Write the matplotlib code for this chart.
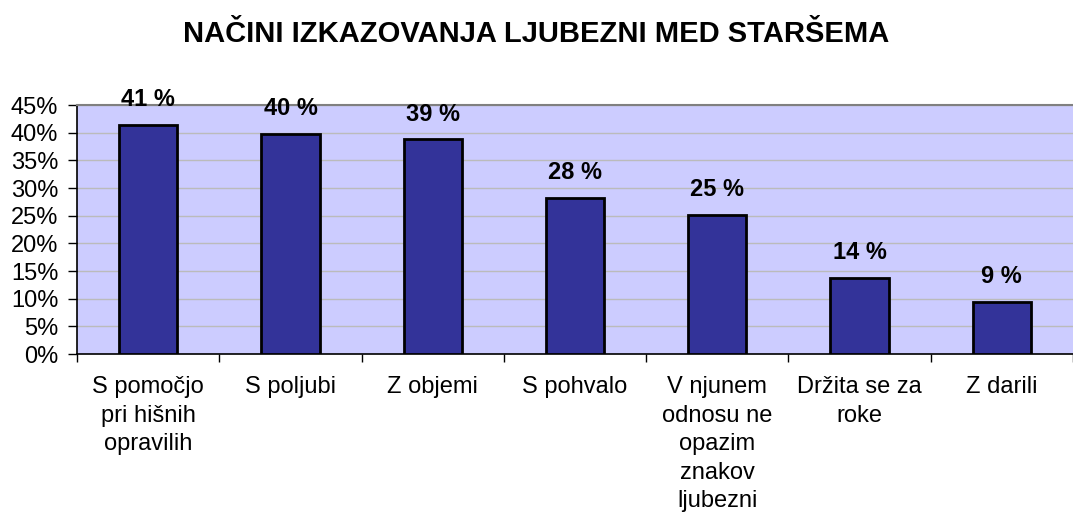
import numpy as np
import matplotlib.pyplot as plt
from matplotlib.ticker import FixedLocator, PercentFormatter

plt.rcParams['font.family'] = ['Liberation Sans', 'DejaVu Sans']

categories = ["S pomočjo\npri hišnih\nopravilih", "S poljubi", "Z objemi", "S pohvalo",
              "V njunem\nodnosu ne\nopazim\nznakov\nljubezni", "Držita se za\nroke", "Z darili"]
values = [41.4, 39.8, 38.8, 28.3, 25.2, 13.7, 9.4]
labels = ["41 %", "40 %", "39 %", "28 %", "25 %", "14 %", "9 %"]

fig = plt.figure(figsize=(10.73, 5.23), dpi=100)
ax = fig.add_axes([0.0718, 0.323, 0.9282, 0.476])
ax.set_facecolor("#CCCCFF")

x = np.arange(len(values))
ax.bar(x, values, width=0.41, color="#333399", edgecolor="black", linewidth=2, zorder=3)
for xi, v, lab in zip(x, values, labels):
    ax.annotate(lab, (xi, v), xytext=(0, 10), textcoords="offset points",
                ha="center", va="bottom", fontsize=17, fontweight="bold")

ax.set_xlim(-0.5, len(values) - 0.5)
ax.set_ylim(0, 45)
ax.set_yticks(np.arange(0, 46, 5))
ax.yaxis.set_major_formatter(PercentFormatter(decimals=0))
ax.yaxis.grid(True, color="#BBBBBB", linewidth=1, zorder=0)

ax.set_xticks(x)
ax.set_xticklabels(categories, fontsize=17, linespacing=1.38, va="top")
ax.xaxis.set_minor_locator(FixedLocator(np.arange(-0.5, len(values), 1)))
ax.tick_params(axis="x", which="major", length=0, pad=16)
ax.tick_params(axis="x", which="minor", length=6, width=1, direction="out")
ax.tick_params(axis="y", labelsize=17, length=6.5, width=1, direction="out", pad=7)

for side in ["left", "bottom"]:
    ax.spines[side].set_color("black")
    ax.spines[side].set_linewidth(1.2)
ax.spines["top"].set_color("#808080")
ax.spines["top"].set_linewidth(1.5)
ax.spines["right"].set_visible(False)

fig.text(0.5, 0.935, "NAČINI IZKAZOVANJA LJUBEZNI MED STARŠEMA",
         ha="center", va="center", fontsize=21, fontweight="bold")

fig.savefig("out.png", dpi=100)
